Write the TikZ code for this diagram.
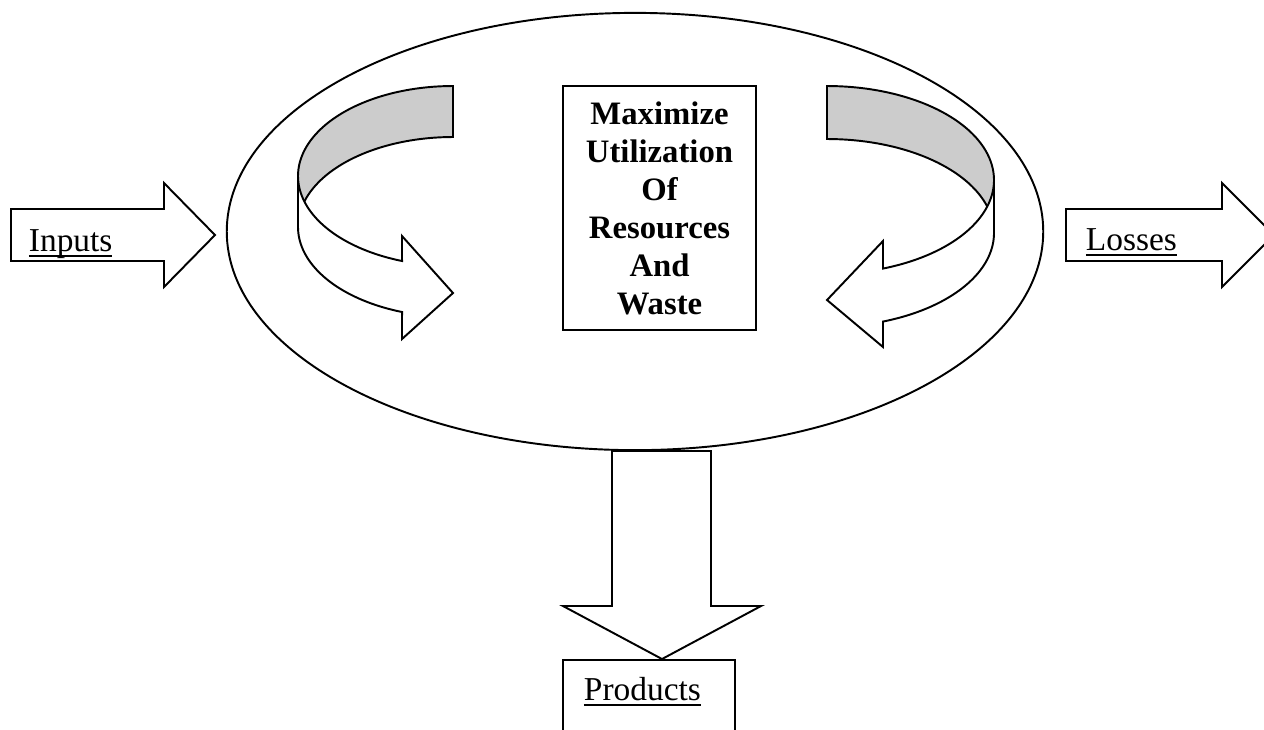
\documentclass[tikz,border=0pt]{standalone}
\usepackage{fontspec}
\setmainfont{Liberation Serif}
\usetikzlibrary{shapes.geometric}
\definecolor{bandgray}{gray}{0.8}
\newcommand\myul[1]{\setbox0\hbox{#1}\rlap{\rule[-1.7pt]{\wd0}{0.5pt}}\box0}
\begin{document}
\begin{tikzpicture}[x=0.01cm,y=-0.01cm,line width=0.55pt,line join=miter,
  blockarrow/.style={draw,fill=white},
  band/.style={draw,fill=bandgray},
  label/.style={anchor=base west,inner sep=0pt,font=\fontsize{9.5pt}{11.6pt}\selectfont}]
\useasboundingbox (0,0) rectangle (1264,729);
\clip (0,0) rectangle (1264,729);
% main loop ellipse
\node[draw,ellipse,minimum width=8.16cm,minimum height=4.37cm,inner sep=0pt] (loop) at (635,231.5) {};
% inputs arrow
\draw[blockarrow] (11,209) -- (164,209) -- (164,183) -- (215,235) -- (164,287) -- (164,261) -- (11,261) -- cycle;
\node[label] (inputs) at (28,251) {\myul{Inputs}};
% losses arrow
\draw[blockarrow] (1066,209) -- (1222,209) -- (1222,183) -- (1274,235) -- (1222,287) -- (1222,261) -- (1066,261) -- cycle;
\node[label] (losses) at (1085,250) {\myul{Losses}};
% products arrow
\draw[blockarrow] (612,451) -- (711,451) -- (711,606) -- (761,606) -- (662,659) -- (563,606) -- (612,606) -- cycle;
\draw (563,660) rectangle (735,760);
\node[label] (products) at (583,700) {\myul{Products}};
% left curved arrow
\draw[band] plot[domain=90:180,samples=40,smooth] ({453+155*cos(\x)},{176-90*sin(\x)})
  -- plot[domain=180:90,samples=40,smooth] ({453+155*cos(\x)},{227-90*sin(\x)}) -- cycle;
\draw[blockarrow] plot[domain=180:250.8,samples=40,smooth] ({453+155*cos(\x)},{176-90*sin(\x)})
  -- (402,236) -- (453,293) -- (402,339)
  -- plot[domain=250.8:180,samples=40,smooth] ({453+155*cos(\x)},{227-90*sin(\x)}) -- cycle;
% right curved arrow
\draw[band] plot[domain=90:0,samples=40,smooth] ({827+167*cos(\x)},{180-94*sin(\x)})
  -- plot[domain=0:90,samples=40,smooth] ({827+167*cos(\x)},{233-94*sin(\x)}) -- cycle;
\draw[blockarrow] plot[domain=0:-70.4,samples=40,smooth] ({827+167*cos(\x)},{180-94*sin(\x)})
  -- (883,241) -- (827,300) -- (883,347)
  -- plot[domain=-70.4:0,samples=40,smooth] ({827+167*cos(\x)},{233-94*sin(\x)}) -- cycle;
% central box
\node[draw,fill=white,minimum width=1.93cm,minimum height=2.44cm,inner sep=0pt,align=center,
  font=\bfseries\fontsize{9.3pt}{10.8pt}\selectfont] (core) at (659.5,208)
  {Maximize\\Utilization\\Of\\Resources\\And\\Waste};
\end{tikzpicture}
\end{document}
